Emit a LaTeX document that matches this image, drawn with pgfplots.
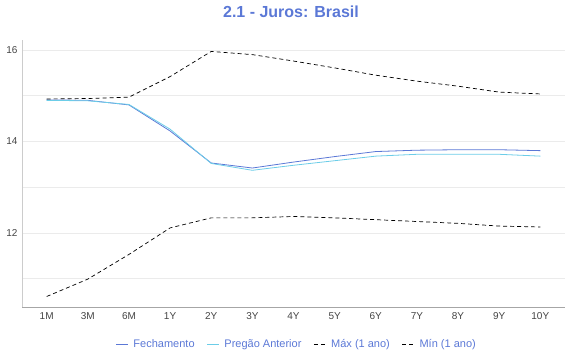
\documentclass[border=0pt]{standalone}
\usepackage{pgfplots}
\pgfplotsset{compat=1.18}
\usepackage{fontspec}
\setmainfont{Liberation Sans}
\definecolor{fech}{HTML}{5B78D6}
\definecolor{preg}{HTML}{6CCDE8}
\definecolor{ttl}{HTML}{5B78D6}
\definecolor{gridc}{HTML}{EBEBEB}
\definecolor{tickc}{HTML}{444444}
\begin{document}
\begin{tikzpicture}
\useasboundingbox (-22pt,-53pt) rectangle (548pt,307pt);
\begin{axis}[
  at={(0pt,0pt)}, anchor=south west,
  scale only axis, width=543pt, height=267pt,
  xmin=-0.6, xmax=12.6, ymin=10.38, ymax=16.22,
  xtick={0,...,12},
  xticklabels={1M,3M,6M,1Y,2Y,3Y,4Y,5Y,6Y,7Y,8Y,9Y,10Y},
  ytick={12,14,16}, minor ytick={11,13,15},
  ymajorgrids, yminorgrids,
  major grid style={gridc, line width=0.6pt},
  minor grid style={gridc, line width=0.6pt},
  major tick length=0pt, minor tick length=0pt,
  axis x line*=bottom, axis y line*=left,
  x axis line style={draw=black!35,-},
  y axis line style={draw=black!20,-},
  tick label style={font=\fontsize{10}{11}\selectfont, text=tickc},
  /pgf/number format/assume math mode=true,
  xticklabel style={yshift=-2pt},
  yticklabel style={xshift=-1pt},
  legend style={at={(rel axis cs:0.506,-0.1386)}, anchor=center, draw=none, fill=none,
    font=\fontsize{11}{12}\selectfont, text=fech, legend columns=4,
    /tikz/every odd column/.append style={column sep=3pt},
    /tikz/every even column/.append style={column sep=10pt}},
  legend image code/.code={\draw[#1] (0pt,0pt) -- (12pt,0pt);},
]
\addplot[fech, line width=0.8pt] coordinates {
(0,14.91)(1,14.90)(2,14.80)(3,14.23)(4,13.53)(5,13.42)(6,13.55)(7,13.67)(8,13.78)(9,13.81)(10,13.82)(11,13.82)(12,13.80)};
\addlegendentry{Fechamento}
\addplot[preg, line width=0.8pt] coordinates {
(0,14.90)(1,14.89)(2,14.81)(3,14.27)(4,13.52)(5,13.37)(6,13.48)(7,13.58)(8,13.68)(9,13.72)(10,13.72)(11,13.72)(12,13.68)};
\addlegendentry{Pregão Anterior}
\addplot[black, line width=0.7pt, dash pattern=on 4pt off 3pt] coordinates {
(0,14.93)(1,14.94)(2,14.97)(3,15.42)(4,15.97)(5,15.90)(6,15.76)(7,15.61)(8,15.45)(9,15.32)(10,15.21)(11,15.08)(12,15.04)};
\addlegendentry{Máx (1 ano)}
\addplot[black, line width=0.7pt, dash pattern=on 4pt off 3pt] coordinates {
(0,10.61)(1,10.99)(2,11.53)(3,12.11)(4,12.33)(5,12.33)(6,12.36)(7,12.33)(8,12.29)(9,12.25)(10,12.21)(11,12.15)(12,12.13)};
\addlegendentry{Mín (1 ano)}
\end{axis}
\node[font=\bfseries\fontsize{16}{18}\selectfont, text=ttl] at (269pt,295pt) {2.1 - Juros: Brasil};
\end{tikzpicture}
\end{document}
